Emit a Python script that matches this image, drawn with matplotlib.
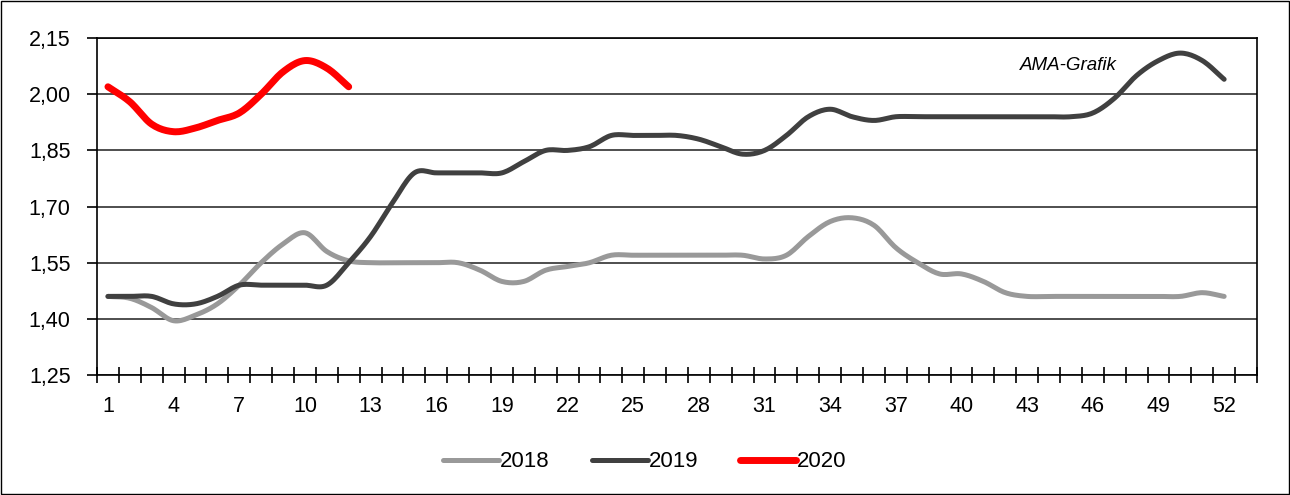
import numpy as np
import matplotlib.pyplot as plt
from matplotlib.ticker import FixedLocator, FuncFormatter

plt.rcParams['font.family'] = ['Liberation Sans', 'DejaVu Sans']

weeks = list(range(1, 53))

price_2018 = [1.46, 1.455, 1.43, 1.395, 1.41, 1.44, 1.49, 1.55, 1.60, 1.63,
              1.58, 1.555, 1.55, 1.55, 1.55, 1.55, 1.55, 1.53, 1.50, 1.50,
              1.53, 1.54, 1.55, 1.57, 1.57, 1.57, 1.57, 1.57, 1.57, 1.57,
              1.56, 1.57, 1.62, 1.66, 1.67, 1.65, 1.59, 1.55, 1.52, 1.52,
              1.50, 1.47, 1.46, 1.46, 1.46, 1.46, 1.46, 1.46, 1.46, 1.46,
              1.47, 1.46]
price_2019 = [1.46, 1.46, 1.46, 1.44, 1.44, 1.46, 1.49, 1.49, 1.49, 1.49,
              1.49, 1.55, 1.62, 1.71, 1.79, 1.79, 1.79, 1.79, 1.79, 1.82,
              1.85, 1.85, 1.86, 1.89, 1.89, 1.89, 1.89, 1.88, 1.86, 1.84,
              1.85, 1.89, 1.94, 1.96, 1.94, 1.93, 1.94, 1.94, 1.94, 1.94,
              1.94, 1.94, 1.94, 1.94, 1.94, 1.95, 1.99, 2.05, 2.09, 2.11,
              2.09, 2.04]
price_2020 = [2.02, 1.98, 1.92, 1.90, 1.91, 1.93, 1.95, 2.00, 2.06, 2.09,
              2.07, 2.02]

years = ["2018", "2019", "2020"]
colors = ["#999999", "#404040", "#ff0000"]
widths = [3.6, 3.6, 5.0]


def smooth(x, y, n=12):
    """ Catmull-Rom style smoothing like Excel's smoothed lines """
    x = np.asarray(x, float)
    y = np.asarray(y, float)
    px = np.concatenate([[2 * x[0] - x[1]], x, [2 * x[-1] - x[-2]]])
    py = np.concatenate([[2 * y[0] - y[1]], y, [2 * y[-1] - y[-2]]])
    xs, ys = [], []
    t = np.linspace(0, 1, n, endpoint=False)
    for i in range(1, len(px) - 2):
        p0, p1, p2, p3 = py[i - 1], py[i], py[i + 1], py[i + 2]
        ys.extend(0.5 * ((2 * p1) + (-p0 + p2) * t
                         + (2 * p0 - 5 * p1 + 4 * p2 - p3) * t ** 2
                         + (-p0 + 3 * p1 - 3 * p2 + p3) * t ** 3))
        xs.extend(px[i] + (px[i + 1] - px[i]) * t)
    xs.append(x[-1])
    ys.append(y[-1])
    return xs, ys


fig = plt.figure(figsize=(12.9, 4.95), dpi=100)
ax = fig.add_axes([0.0752, 0.2424, 0.8992, 0.6806])

series = [price_2018, price_2019, price_2020]
for name, vals, c, lw in zip(years, series, colors, widths):
    sx, sy = smooth(weeks[:len(vals)], vals)
    ax.plot(sx, sy, color=c, lw=lw, solid_capstyle="round", label=name, zorder=3)

ax.set_xlim(0.5, 53.5)
ax.set_ylim(1.25, 2.15)
ax.set_yticks(np.arange(1.25, 2.151, 0.15))
ax.yaxis.set_major_formatter(FuncFormatter(lambda v, p: "{:.2f}".format(v).replace(".", ",")))
ax.set_xticks(list(range(1, 53, 3)))
ax.xaxis.set_minor_locator(FixedLocator(np.arange(0.5, 53.6, 1)))
ax.tick_params(axis="x", which="major", length=0, labelsize=15.5, pad=15)
ax.tick_params(axis="x", which="minor", length=12, width=1.2, direction="inout")
ax.tick_params(axis="y", length=7, width=1.2, labelsize=15.5, pad=12)
ax.grid(axis="y", color="#404040", lw=1.3)
for s in ax.spines.values():
    s.set_color("black")
    s.set_linewidth(1.2)

ax.text(0.837, 0.92, "AMA-Grafik", transform=ax.transAxes, style="italic",
        fontsize=13.5, ha="center", va="center")

fig.legend(loc="center", bbox_to_anchor=(0.5, 0.067), ncol=3, frameon=False,
           fontsize=16, handlelength=2.5, handletextpad=0.05, columnspacing=1.9)

fig.patches.append(plt.Rectangle((0.001, 0.002), 0.998, 0.996, transform=fig.transFigure,
                                 fill=False, edgecolor="black", lw=1))

fig.savefig("out.png", dpi=100)
